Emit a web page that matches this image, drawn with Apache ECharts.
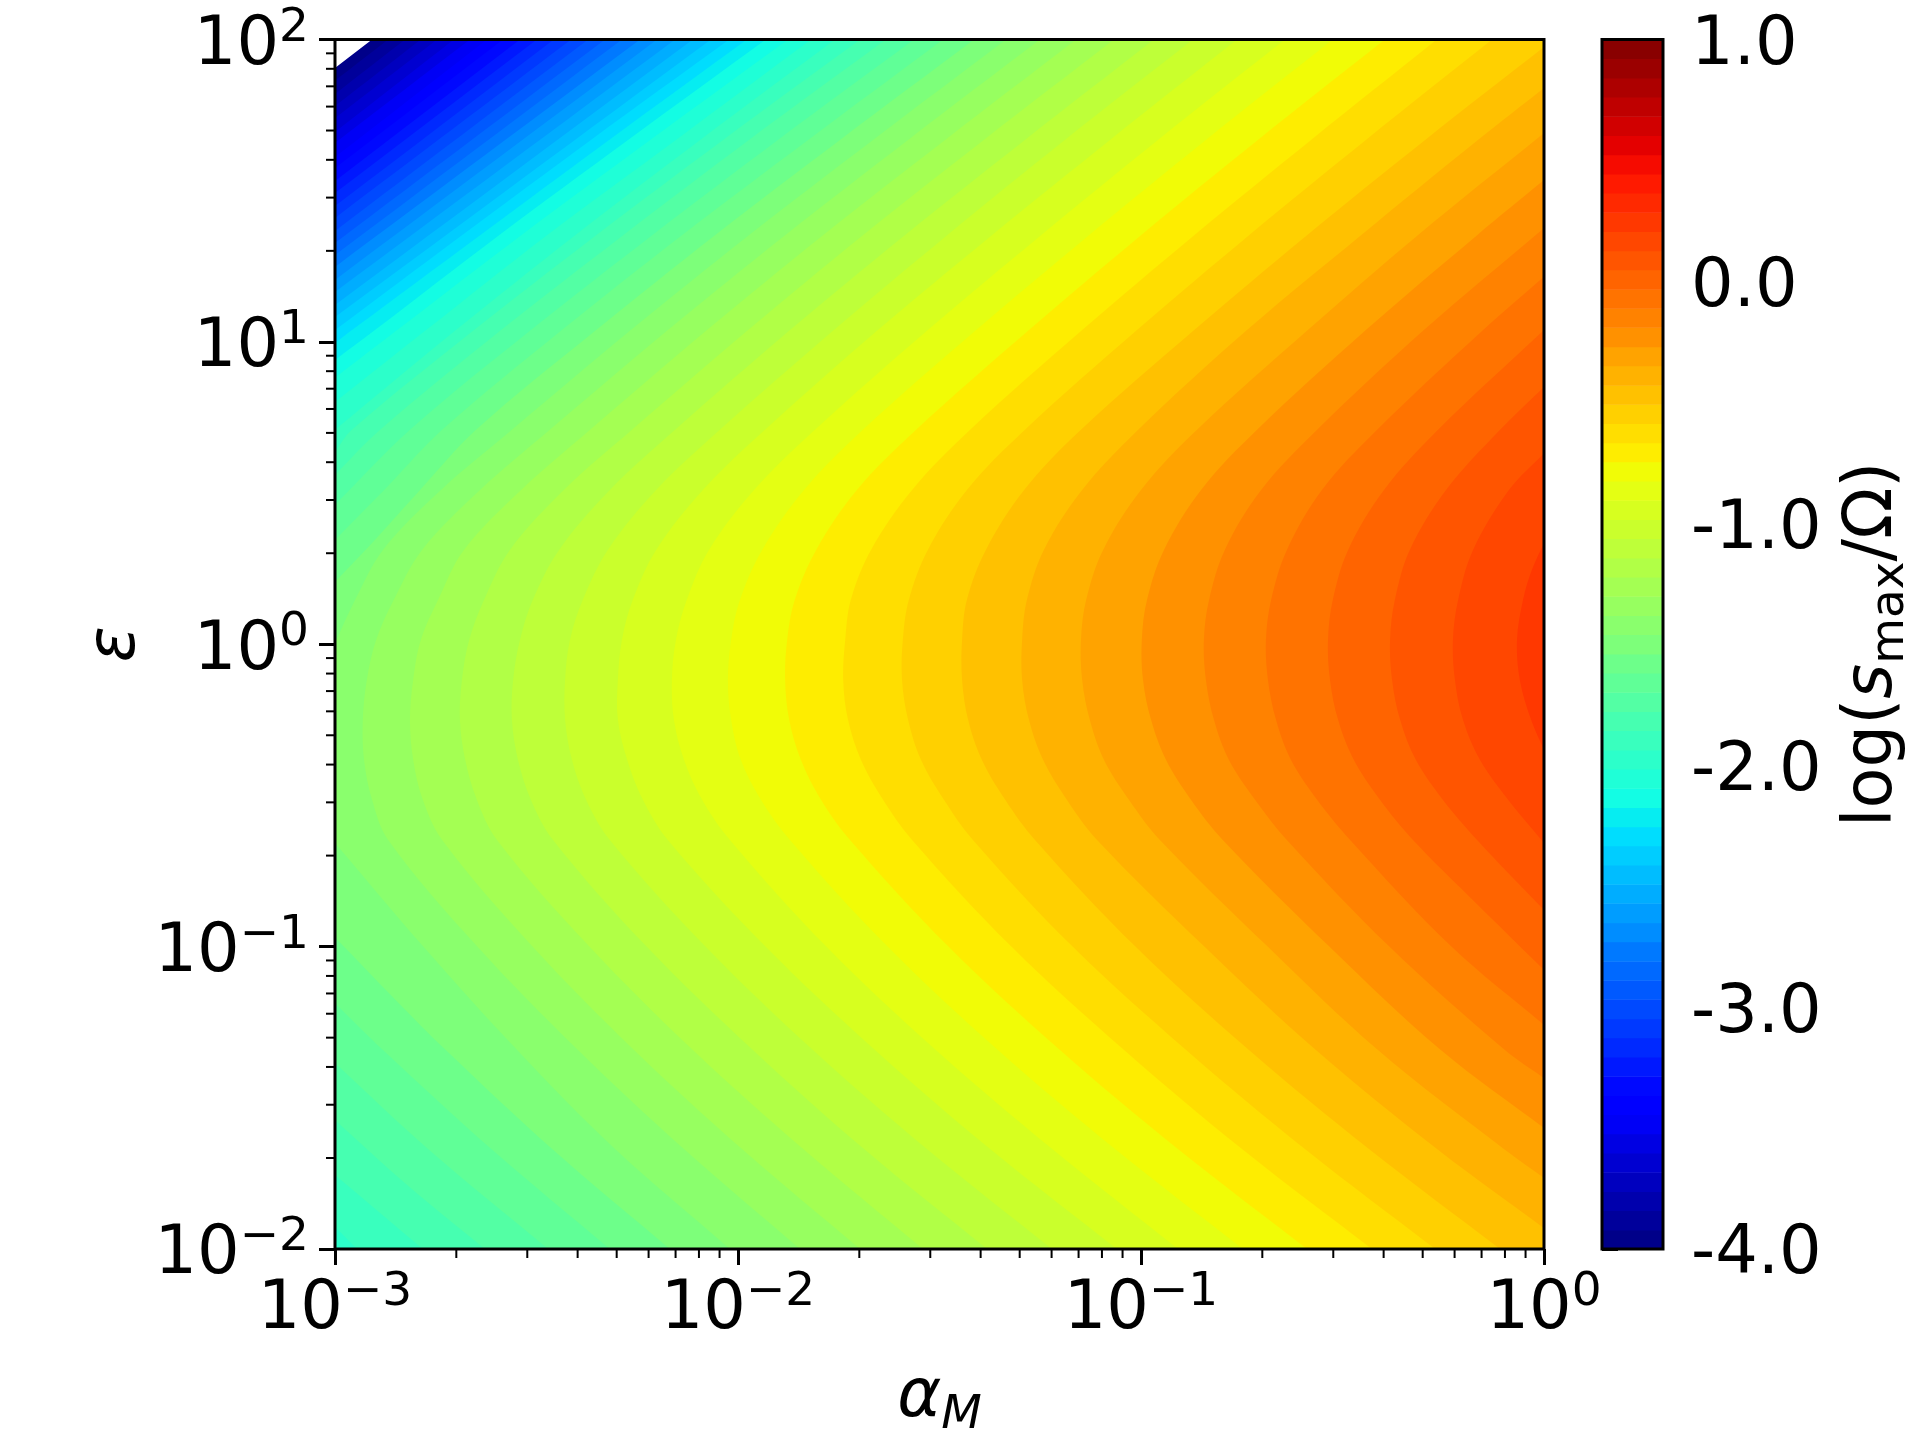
<!DOCTYPE html>
<html>
<head>
<meta charset="utf-8">
<title>log(s_max / Omega)</title>
<script src="https://cdn.jsdelivr.net/npm/echarts@6/dist/echarts.min.js"></script>
<style>
  html, body { margin: 0; padding: 0; background: #fff; }
  #chart { width: 1920px; height: 1440px; }
</style>
</head>
<body>
<div id="chart"></div>
<script>
// contour levels of the filled plot, same as the colorbar bands
const bandLevels = [
  -4, -3.921, -3.841, -3.762, -3.683, -3.603, -3.524, -3.444, -3.365, -3.286, -3.206, -3.127, -3.048,
  -2.968, -2.889, -2.81, -2.73, -2.651, -2.571, -2.492, -2.413, -2.333, -2.254, -2.175, -2.095, -2.016,
  -1.937, -1.857, -1.778, -1.698, -1.619, -1.54, -1.46, -1.381, -1.302, -1.222, -1.143, -1.063, -0.984,
  -0.905, -0.825, -0.746, -0.667, -0.587, -0.508, -0.429, -0.349, -0.27, -0.19, -0.111, -0.032, 0.048,
  0.127, 0.206, 0.286, 0.365, 0.444, 0.524, 0.603, 0.683, 0.762, 0.841, 0.921, 1
];

const xMajorTicks = [0.001, 0.01, 0.1, 1];
const yMajorTicks = [0.01, 0.1, 1, 10, 100];
const minorSteps = [2, 3, 4, 5, 6, 7, 8, 9];
const colorbarTicks = [-4, -3, -2, -1, 0, 1];

// contour lines, as [log10 alpha, log10 epsilon]
// blue corner: from the top edge to the left edge
const cornerContours = [
  [[-2.908, 2], [-3, 1.906]],
  [[-2.868, 2], [-3, 1.864]],
  [[-2.826, 2], [-3, 1.82]],
  [[-2.787, 2], [-3, 1.78]],
  [[-2.747, 2], [-3, 1.74]],
  [[-2.705, 2], [-3, 1.694]],
  [[-2.665, 2], [-3, 1.658]],
  [[-2.623, 2], [-3, 1.611]],
  [[-2.583, 2], [-3, 1.575]],
  [[-2.541, 2], [-3, 1.532]],
  [[-2.499, 2], [-3, 1.492]],
  [[-2.457, 2], [-3, 1.449]],
  [[-2.414, 2], [-3, 1.41]],
  [[-2.372, 2], [-3, 1.367]],
  [[-2.33, 2], [-3, 1.327]],
  [[-2.288, 2], [-3, 1.287]],
  [[-2.243, 2], [-3, 1.248]],
  [[-2.201, 2], [-3, 1.205]],
  [[-2.156, 2], [-3, 1.165]],
  [[-2.112, 2], [-3, 1.122]],
  [[-2.067, 2], [-3, 1.082]],
  [[-2.022, 2], [-2.365, 1.668], [-2.685, 1.353], [-3, 1.039]],
  [[-1.978, 2], [-2.32, 1.668], [-2.64, 1.353], [-2.958, 1.039], [-3, 0.996]],
  [[-1.931, 2], [-2.273, 1.668], [-2.593, 1.353], [-2.901, 1.039], [-3, 0.94]],
  [[-1.876, 2], [-2.218, 1.668], [-2.538, 1.353], [-2.846, 1.039], [-3, 0.881]],
  [[-1.819, 2], [-2.154, 1.668], [-2.474, 1.353], [-2.774, 1.039], [-3, 0.801]]
];

// these leave through the left edge twice
const leftContours = [
  [[-1.759, 2], [-2.094, 1.668], [-2.404, 1.353], [-2.7, 1.039], [-3, 0.709], [-3, -1.927], [-2.945, -2]],
  [[-1.697, 2], [-2.037, 1.668], [-2.352, 1.353], [-2.655, 1.039], [-2.958, 0.709], [-3, 0.636], [-3, -1.755], [-2.782, -2]],
  [[-1.633, 2], [-1.973, 1.668], [-2.285, 1.353], [-2.588, 1.039], [-2.888, 0.709], [-3, 0.56], [-3, -1.573], [-2.821, -1.788], [-2.628, -2]],
  [[-1.563, 2], [-1.901, 1.668], [-2.213, 1.353], [-2.514, 1.039], [-2.814, 0.709], [-3, 0.461], [-3, -1.385], [-2.767, -1.672], [-2.471, -2]],
  [[-1.491, 2], [-1.826, 1.668], [-2.139, 1.353], [-2.437, 1.039], [-2.734, 0.709], [-2.866, 0.527], [-3, 0.345], [-3, -1.187], [-2.881, -1.342], [-2.61, -1.672], [-2.318, -2]],
  [[-1.414, 2], [-1.747, 1.668], [-2.057, 1.353], [-2.352, 1.039], [-2.65, 0.709], [-2.789, 0.51], [-2.901, 0.345], [-3, 0.206], [-3, -0.969], [-2.849, -1.177], [-2.725, -1.342], [-2.459, -1.672], [-2.169, -2]],
  [[-1.335, 2], [-1.665, 1.668], [-1.973, 1.353], [-2.266, 1.039], [-2.561, 0.709], [-2.737, 0.51], [-2.881, 0.312], [-2.95, 0.147], [-3, 0.004], [-3, -0.657], [-2.782, -0.998], [-2.548, -1.342], [-2.303, -1.672], [-2.02, -2]]
];

// chevrons with the tip inside the plot
const tipContours = [
  [[-1.251, 2], [-1.578, 1.668], [-1.883, 1.353], [-2.174, 1.039], [-2.467, 0.709], [-2.64, 0.51], [-2.784, 0.312], [-2.854, 0.147], [-2.898, 0.014], [-2.921, -0.118], [-2.931, -0.25], [-2.928, -0.382], [-2.908, -0.514], [-2.868, -0.647], [-2.648, -0.998], [-2.397, -1.342], [-2.132, -1.672], [-1.846, -2]],
  [[-1.161, 2], [-1.486, 1.668], [-1.789, 1.353], [-2.077, 1.039], [-2.367, 0.709], [-2.538, 0.51], [-2.68, 0.312], [-2.744, 0.147], [-2.787, 0.014], [-2.806, -0.118], [-2.814, -0.25], [-2.806, -0.382], [-2.782, -0.514], [-2.734, -0.647], [-2.511, -0.998], [-2.258, -1.342], [-1.988, -1.672], [-1.697, -2]],
  [[-1.067, 2], [-1.39, 1.668], [-1.69, 1.353], [-1.975, 1.039], [-2.263, 0.709], [-2.432, 0.51], [-2.566, 0.312], [-2.63, 0.147], [-2.667, 0.014], [-2.685, -0.118], [-2.69, -0.25], [-2.677, -0.382], [-2.648, -0.514], [-2.598, -0.647], [-2.37, -0.998], [-2.112, -1.342], [-1.836, -1.672], [-1.541, -2]],
  [[-0.968, 2], [-1.288, 1.668], [-1.586, 1.353], [-1.871, 1.039], [-2.156, 0.709], [-2.318, 0.51], [-2.444, 0.312], [-2.509, 0.147], [-2.541, 0.014], [-2.558, -0.118], [-2.561, -0.25], [-2.546, -0.382], [-2.514, -0.514], [-2.459, -0.647], [-2.228, -0.998], [-1.963, -1.342], [-1.685, -1.672], [-1.382, -2]],
  [[-0.871, 2], [-1.189, 1.668], [-1.481, 1.353], [-1.762, 1.039], [-2.045, 0.709], [-2.203, 0.51], [-2.323, 0.312], [-2.385, 0.147], [-2.417, 0.014], [-2.429, -0.118], [-2.429, -0.25], [-2.412, -0.382], [-2.377, -0.514], [-2.318, -0.647], [-2.082, -0.998], [-1.814, -1.342], [-1.529, -1.672], [-1.221, -2]],
  [[-0.762, 2], [-1.077, 1.668], [-1.37, 1.353], [-1.653, 1.039], [-1.933, 0.709], [-2.087, 0.51], [-2.203, 0.312], [-2.261, 0.147], [-2.288, 0.014], [-2.298, -0.118], [-2.298, -0.25], [-2.275, -0.382], [-2.236, -0.514], [-2.174, -0.647], [-1.933, -0.998], [-1.66, -1.342], [-1.372, -1.672], [-1.06, -2]],
  [[-0.643, 2], [-0.958, 1.668], [-1.248, 1.353], [-1.529, 1.039], [-1.809, 0.709], [-1.96, 0.51], [-2.072, 0.312], [-2.127, 0.147], [-2.154, 0.014], [-2.164, -0.118], [-2.159, -0.25], [-2.134, -0.382], [-2.089, -0.514], [-2.02, -0.647], [-1.782, -0.998], [-1.509, -1.342], [-1.218, -1.672], [-0.908, -2]],
  [[-0.524, 2], [-0.839, 1.668], [-1.129, 1.353], [-1.409, 1.039], [-1.69, 0.709], [-1.836, 0.51], [-1.94, 0.312], [-1.995, 0.147], [-2.017, 0.014], [-2.025, -0.118], [-2.017, -0.25], [-1.993, -0.382], [-1.943, -0.514], [-1.871, -0.647], [-1.63, -0.998], [-1.355, -1.342], [-1.062, -1.672], [-0.747, -2]],
  [[-0.395, 2], [-0.71, 1.668], [-1, 1.353], [-1.278, 1.039], [-1.558, 0.709], [-1.705, 0.51], [-1.806, 0.312], [-1.859, 0.147], [-1.878, 0.014], [-1.883, -0.118], [-1.873, -0.25], [-1.844, -0.382], [-1.794, -0.514], [-1.722, -0.647], [-1.479, -0.998], [-1.201, -1.342], [-0.906, -1.672], [-0.588, -2]],
  [[-0.266, 2], [-0.578, 1.668], [-0.868, 1.353], [-1.146, 1.039], [-1.424, 0.709], [-1.568, 0.51], [-1.67, 0.312], [-1.72, 0.147], [-1.734, 0.014], [-1.739, -0.118], [-1.727, -0.25], [-1.695, -0.382], [-1.64, -0.514], [-1.568, -0.647], [-1.323, -0.998], [-1.042, -1.342], [-0.747, -1.672], [-0.427, -2]],
  [[-0.129, 2], [-0.442, 1.668], [-0.732, 1.353], [-1.01, 1.039], [-1.288, 0.709], [-1.432, 0.51], [-1.529, 0.312], [-1.576, 0.147], [-1.591, 0.014], [-1.593, -0.118], [-1.578, -0.25], [-1.546, -0.382], [-1.489, -0.514], [-1.417, -0.647], [-1.171, -0.998], [-0.888, -1.342], [-0.591, -1.672], [-0.27, -2]],
  [[0, 1.975], [-0.295, 1.668], [-0.588, 1.353], [-0.868, 1.039], [-1.149, 0.709], [-1.29, 0.51], [-1.385, 0.312], [-1.432, 0.147], [-1.444, 0.014], [-1.444, -0.118], [-1.429, -0.25], [-1.395, -0.382], [-1.337, -0.514], [-1.263, -0.647], [-1.015, -0.998], [-0.732, -1.342], [-0.432, -1.672], [-0.109, -2]],
  [[0, 1.84], [-0.164, 1.668], [-0.454, 1.353], [-0.737, 1.039], [-1.007, 0.709], [-1.146, 0.51], [-1.241, 0.312], [-1.283, 0.147], [-1.295, 0.014], [-1.295, -0.118], [-1.278, -0.25], [-1.243, -0.382], [-1.184, -0.514], [-1.109, -0.647], [-0.844, -0.998], [-0.566, -1.342], [-0.263, -1.672], [0, -1.931]],
  [[0, 1.691], [-0.313, 1.353], [-0.586, 1.039], [-0.861, 0.709], [-1, 0.51], [-1.094, 0.312], [-1.136, 0.147], [-1.149, 0.014], [-1.146, -0.118], [-1.127, -0.25], [-1.092, -0.382], [-1.03, -0.514], [-0.953, -0.647], [-0.687, -0.998], [-0.412, -1.342], [-0.097, -1.672], [0, -1.765]],
  [[0, 1.535], [-0.166, 1.353], [-0.442, 1.039], [-0.712, 0.709], [-0.851, 0.51], [-0.943, 0.312], [-0.985, 0.147], [-0.998, 0.014], [-0.995, -0.118], [-0.975, -0.25], [-0.938, -0.382], [-0.876, -0.514], [-0.797, -0.647], [-0.534, -0.998], [-0.256, -1.342], [0, -1.6]],
  [[0, 1.377], [-0.298, 1.039], [-0.563, 0.709], [-0.702, 0.51], [-0.792, 0.312], [-0.831, 0.147], [-0.844, 0.014], [-0.839, -0.118], [-0.819, -0.25], [-0.782, -0.382], [-0.717, -0.514], [-0.638, -0.647], [-0.385, -0.998], [-0.097, -1.342], [0, -1.435]],
  [[0, 1.215], [-0.151, 1.039], [-0.414, 0.709], [-0.551, 0.51], [-0.638, 0.312], [-0.677, 0.147], [-0.69, 0.014], [-0.685, -0.118], [-0.665, -0.25], [-0.628, -0.382], [-0.563, -0.514], [-0.481, -0.647], [-0.231, -0.998], [0, -1.259]],
  [[0, 1.039], [-0.263, 0.709], [-0.397, 0.51], [-0.486, 0.312], [-0.524, 0.147], [-0.536, 0.014], [-0.531, -0.118], [-0.511, -0.25], [-0.472, -0.382], [-0.407, -0.514], [-0.325, -0.647], [-0.164, -0.862], [0, -1.077]],
  [[0, 0.851], [-0.109, 0.709], [-0.243, 0.51], [-0.333, 0.312], [-0.37, 0.147], [-0.382, 0.014], [-0.377, -0.118], [-0.357, -0.25], [-0.318, -0.382], [-0.251, -0.514], [-0.166, -0.647], [0, -0.879]],
  [[0, 0.632], [-0.087, 0.51], [-0.176, 0.312], [-0.213, 0.147], [-0.226, 0.014], [-0.221, -0.118], [-0.201, -0.25], [-0.159, -0.382], [-0.089, -0.514], [0, -0.657]],
  [[0, 0.335], [-0.03, 0.246], [-0.052, 0.147], [-0.067, 0.014], [-0.06, -0.118], [-0.032, -0.25], [0, -0.35]]
];

const contours = cornerContours.concat(leftContours, tipContours);

const FONT = 'DejaVu Sans';
const TICK_FONT = 67;
const SMALL_FONT = 47;

const xMinorTicks = xMajorTicks.slice(0, -1).flatMap(d => minorSteps.map(m => m * d));
const yMinorTicks = yMajorTicks.slice(0, -1).flatMap(d => minorSteps.map(m => m * d));

// matplotlib jet segments
const jetStops = {
  r: [[0, 0], [0.35, 0], [0.66, 1], [0.89, 1], [1, 0.5]],
  g: [[0, 0], [0.125, 0], [0.375, 1], [0.64, 1], [0.91, 0], [1, 0]],
  b: [[0, 0.5], [0.11, 1], [0.34, 1], [0.65, 0], [1, 0]]
};

function jetChannel(stops, t) {
  for (let i = 1; i < stops.length; i++) {
    if (t <= stops[i][0]) {
      const a = stops[i - 1], b = stops[i];
      return a[1] + (b[1] - a[1]) * (t - a[0]) / (b[0] - a[0]);
    }
  }
  return stops[stops.length - 1][1];
}

function bandColor(i) {
  const mid = (bandLevels[i] + bandLevels[i + 1]) / 2;
  const t = Math.floor((mid + 4) / 5 * 256) / 255;
  const c = ['r', 'g', 'b'].map(k => Math.round(jetChannel(jetStops[k], t) * 255));
  return 'rgb(' + c.join(',') + ')';
}

function powerLabel(value) {
  const exp = Math.round(Math.log10(value));
  return '{b|10}{s|' + String(exp).replace('-', '\u2212') + '}';
}

const powerRich = {
  b: { fontFamily: FONT, fontSize: TICK_FONT, lineHeight: TICK_FONT, verticalAlign: 'bottom', color: '#000' },
  s: { fontFamily: FONT, fontSize: SMALL_FONT, lineHeight: SMALL_FONT, padding: [0, 0, 28, 0], verticalAlign: 'bottom', color: '#000' }
};

// a bit past the edge, on the line of the last segment; the grid clip hides it
function pastEdge(p, from) {
  const dx = p[0] - from[0], dy = p[1] - from[1];
  const d = Math.sqrt(dx * dx + dy * dy);
  return [p[0] + dx / d * 0.15, p[1] + dy / d * 0.15];
}

// outline of the region above one level, closed outside the plot on the right
function regionOutline(path) {
  const runs = [[path[0]]];
  for (let i = 1; i < path.length; i++) {
    if (path[i][0] === -3 && path[i - 1][0] === -3) runs.push([]);
    runs[runs.length - 1].push(path[i]);
  }
  const out = [];
  runs.forEach(run => {
    out.push(pastEdge(run[0], run[1]));
    run.forEach(p => out.push(p));
    out.push(pastEdge(run[run.length - 1], run[run.length - 2]));
  });
  if (path[path.length - 1][0] === -3) out.push([-3.6, -2.6]);
  out.push([0.6, -2.6], [0.6, 2.6]);
  return out;
}

function minorTickSeries(values, horizontal) {
  return {
    type: 'custom',
    xAxisIndex: 0,
    yAxisIndex: 0,
    clip: false,
    z: 5,
    silent: true,
    data: values.map(v => horizontal ? [v, 0.01] : [0.001, v]),
    encode: { x: 0, y: 1 },
    renderItem: (params, api) => {
      const p = api.coord([api.value(0), api.value(1)]);
      return {
        type: 'line',
        shape: horizontal
          ? { x1: p[0], y1: p[1], x2: p[0], y2: p[1] + 9 }
          : { x1: p[0], y1: p[1], x2: p[0] - 9, y2: p[1] },
        style: { stroke: '#000', lineWidth: 2 }
      };
    }
  };
}

function frameSeries(gridIdx, lo, hi) {
  return {
    type: 'custom',
    xAxisIndex: gridIdx,
    yAxisIndex: gridIdx,
    clip: false,
    z: 6,
    silent: true,
    data: [[lo[0], lo[1], hi[0], hi[1]]],
    encode: { x: 0, y: 1 },
    renderItem: (params, api) => {
      const a = api.coord([api.value(0), api.value(1)]);
      const b = api.coord([api.value(2), api.value(3)]);
      return {
        type: 'rect',
        shape: { x: a[0], y: b[1], width: b[0] - a[0], height: a[1] - b[1] },
        style: { fill: 'none', stroke: '#000', lineWidth: 3 }
      };
    }
  };
}

const tickStyle = { show: true, length: 16, inside: false, lineStyle: { color: '#000', width: 3 } };

const option = {
  animation: false,
  backgroundColor: '#fff',
  grid: [
    { left: 335, top: 39.5, width: 1209, height: 1209.5, outerBoundsMode: 'none' },
    { left: 1602, top: 39.5, width: 61, height: 1209.5, outerBoundsMode: 'none' }
  ],
  xAxis: [
    {
      type: 'log', logBase: 10, gridIndex: 0, min: 0.001, max: 1,
      axisLine: { show: false },
      axisTick: tickStyle,
      splitLine: { show: false },
      axisLabel: { margin: 28, formatter: powerLabel, rich: powerRich },
      name: '{a|\u03b1}{m|M}',
      nameLocation: 'middle',
      nameGap: 116,
      nameTextStyle: {
        rich: {
          a: { fontFamily: FONT, fontStyle: 'italic', fontSize: TICK_FONT, lineHeight: 68, verticalAlign: 'top', color: '#000' },
          m: { fontFamily: FONT, fontStyle: 'italic', fontSize: SMALL_FONT, lineHeight: 48, padding: [27, 0, 0, 0], verticalAlign: 'top', color: '#000' }
        }
      }
    },
    { type: 'value', gridIndex: 1, min: 0, max: 1, show: false }
  ],
  yAxis: [
    {
      type: 'log', logBase: 10, gridIndex: 0, min: 0.01, max: 100,
      axisLine: { show: false },
      axisTick: tickStyle,
      splitLine: { show: false },
      axisLabel: { margin: 26, padding: [14, 0, 0, 0], formatter: powerLabel, rich: powerRich },
      name: '\u03b5',
      nameLocation: 'middle',
      nameRotate: 90,
      nameGap: 185,
      nameMoveOverlap: false,
      nameTextStyle: { fontFamily: FONT, fontStyle: 'italic', fontSize: TICK_FONT, color: '#000' }
    },
    {
      type: 'value', gridIndex: 1, min: -4, max: 1, interval: 1, position: 'right',
      axisLine: { show: false },
      axisTick: tickStyle,
      splitLine: { show: false },
      axisLabel: {
        margin: 28,
        padding: [14, 0, 0, 0],
        formatter: v => (colorbarTicks.includes(v) ? '{v|' + v.toFixed(1) + '}' : ''),
        rich: {
          v: { fontFamily: FONT, fontSize: TICK_FONT, lineHeight: TICK_FONT, color: '#000' }
        }
      },
      name: '{r|log(}{i|s}{u|max}{r|/\u03a9)}',
      nameLocation: 'middle',
      nameRotate: 90,
      nameGap: 177,
      nameTextStyle: {
        rich: {
          r: { fontFamily: FONT, fontSize: TICK_FONT, lineHeight: 68, verticalAlign: 'top', color: '#000' },
          i: { fontFamily: FONT, fontStyle: 'italic', fontSize: TICK_FONT, lineHeight: 68, verticalAlign: 'top', color: '#000' },
          u: { fontFamily: FONT, fontSize: SMALL_FONT, lineHeight: 48, padding: [27, 0, 0, 0], verticalAlign: 'top', color: '#000' }
        }
      }
    }
  ],
  series: [
    {
      type: 'custom',
      xAxisIndex: 0,
      yAxisIndex: 0,
      clip: true,
      silent: true,
      z: 2,
      data: contours.map((c, i) => [Math.pow(10, c[0][0]), Math.pow(10, c[0][1]), i]),
      encode: { x: 0, y: 1 },
      renderItem: (params, api) => {
        const k = api.value(2);
        const outline = regionOutline(contours[k]);
        return {
          type: 'polygon',
          shape: {
            points: outline.map(p => api.coord([Math.pow(10, p[0]), Math.pow(10, p[1])])),
            smooth: 0.35,
            smoothConstraint: false
          },
          style: { fill: bandColor(k) }
        };
      }
    },
    {
      type: 'custom',
      xAxisIndex: 1,
      yAxisIndex: 1,
      silent: true,
      z: 2,
      data: bandLevels.slice(0, -1).map((lv, i) => [0, lv, 1, bandLevels[i + 1], i]),
      encode: { x: 0, y: 1 },
      renderItem: (params, api) => {
        const a = api.coord([api.value(0), api.value(1)]);
        const b = api.coord([api.value(2), api.value(3)]);
        return {
          type: 'rect',
          shape: { x: a[0], y: b[1], width: b[0] - a[0], height: a[1] - b[1] + 0.5 },
          style: { fill: bandColor(api.value(4)) }
        };
      }
    },
    minorTickSeries(xMinorTicks, true),
    minorTickSeries(yMinorTicks, false),
    frameSeries(0, [0.001, 0.01], [1, 100]),
    frameSeries(1, [0, -4], [1, 1])
  ]
};

const myChart = echarts.init(document.getElementById('chart'), null, { renderer: 'canvas' });
myChart.setOption(option);
</script>
</body>
</html>
